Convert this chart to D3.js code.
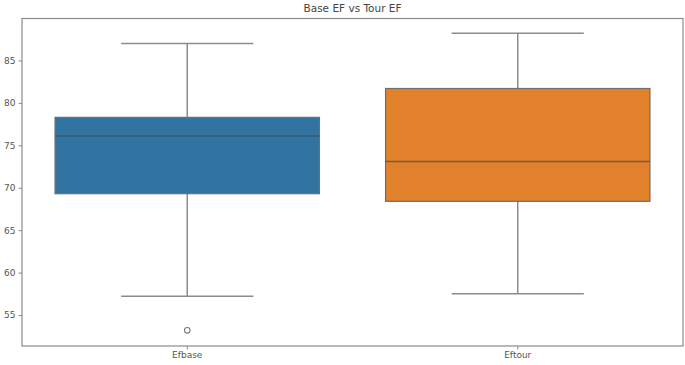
<!DOCTYPE html>
<html><head><meta charset="utf-8">
<script src="https://cdn.jsdelivr.net/npm/d3@7"></script>
<style>body{margin:0;background:#fff}svg{display:block}</style>
</head><body>
<script>
const categories = ["Efbase", "Eftour"];
const whiskerLow = [57.2, 57.5];
const q1 = [69.3, 68.4];
const median = [76.1, 73.1];
const q3 = [78.3, 81.7];
const whiskerHigh = [87.0, 88.2];
const outliers = [[53.2], []];
const colors = ["#3274a1", "#e1812c"];
const yTicks = [55, 60, 65, 70, 75, 80, 85];
const title = "Base EF vs Tour EF";

const W = 685, H = 365;
const m = {left: 22, right: 2, top: 18.5, bottom: 19};
const svg = d3.select("body").append("svg").attr("width", W).attr("height", H);
const x = d3.scaleBand().domain(categories).range([m.left, W - m.right]).paddingInner(0).paddingOuter(0);
const y = d3.scaleLinear().domain([51.35, 89.95]).range([H - m.bottom, m.top]);
const font = "DejaVu Sans, sans-serif";
const axCol = "#8a8a8a", lineCol = "#8c8c8c";

const g = svg.append("g");
categories.forEach((c, i) => {
  const cx = x(c) + x.bandwidth() / 2;
  const bw = x.bandwidth() * 0.8;
  const cw = bw / 2;
  // whiskers
  g.append("line").attr("x1", cx).attr("x2", cx).attr("y1", y(whiskerHigh[i])).attr("y2", y(q3[i])).attr("stroke", lineCol).attr("stroke-width", 1.5);
  g.append("line").attr("x1", cx).attr("x2", cx).attr("y1", y(q1[i])).attr("y2", y(whiskerLow[i])).attr("stroke", lineCol).attr("stroke-width", 1.5);
  g.append("line").attr("x1", cx - cw / 2).attr("x2", cx + cw / 2).attr("y1", y(whiskerHigh[i])).attr("y2", y(whiskerHigh[i])).attr("stroke", lineCol).attr("stroke-width", 1.5);
  g.append("line").attr("x1", cx - cw / 2).attr("x2", cx + cw / 2).attr("y1", y(whiskerLow[i])).attr("y2", y(whiskerLow[i])).attr("stroke", lineCol).attr("stroke-width", 1.5);
  // box
  g.append("rect").attr("x", cx - bw / 2).attr("width", bw).attr("y", y(q3[i])).attr("height", y(q1[i]) - y(q3[i]))
    .attr("fill", colors[i]).attr("stroke", "#6e6e6e").attr("stroke-width", 1.2);
  g.append("line").attr("x1", cx - bw / 2).attr("x2", cx + bw / 2).attr("y1", y(median[i])).attr("y2", y(median[i])).attr("stroke", "#4a4a4a").attr("stroke-width", 1.5).attr("stroke-opacity", 0.7);
  outliers[i].forEach(v => {
    g.append("circle").attr("cx", cx).attr("cy", y(v)).attr("r", 2.8).attr("fill", "none").attr("stroke", "#7a7a7a").attr("stroke-width", 1.1);
  });
});

// frame
svg.append("rect").attr("x", m.left).attr("y", m.top).attr("width", W - m.right - m.left).attr("height", H - m.bottom - m.top)
  .attr("fill", "none").attr("stroke", axCol).attr("stroke-width", 1.2);

const ya = svg.append("g").attr("transform", `translate(${m.left},0)`)
  .call(d3.axisLeft(y).tickValues(yTicks).tickSize(3.5).tickPadding(3));
ya.select(".domain").remove();
ya.selectAll("line").attr("stroke", axCol);
ya.selectAll("text").attr("fill", "#555").style("font-family", font).style("font-size", "9px");

const xa = svg.append("g").attr("transform", `translate(0,${H - m.bottom})`)
  .call(d3.axisBottom(x).tickSize(3.5).tickPadding(2));
xa.select(".domain").remove();
xa.selectAll("line").attr("stroke", axCol);
xa.selectAll("text").attr("fill", "#555").style("font-family", font).style("font-size", "9px");

svg.append("text").attr("x", (m.left + W - m.right) / 2).attr("y", 12).attr("text-anchor", "middle")
  .attr("fill", "#444").style("font-family", font).style("font-size", "10.5px").text(title);
</script>
</body></html>
